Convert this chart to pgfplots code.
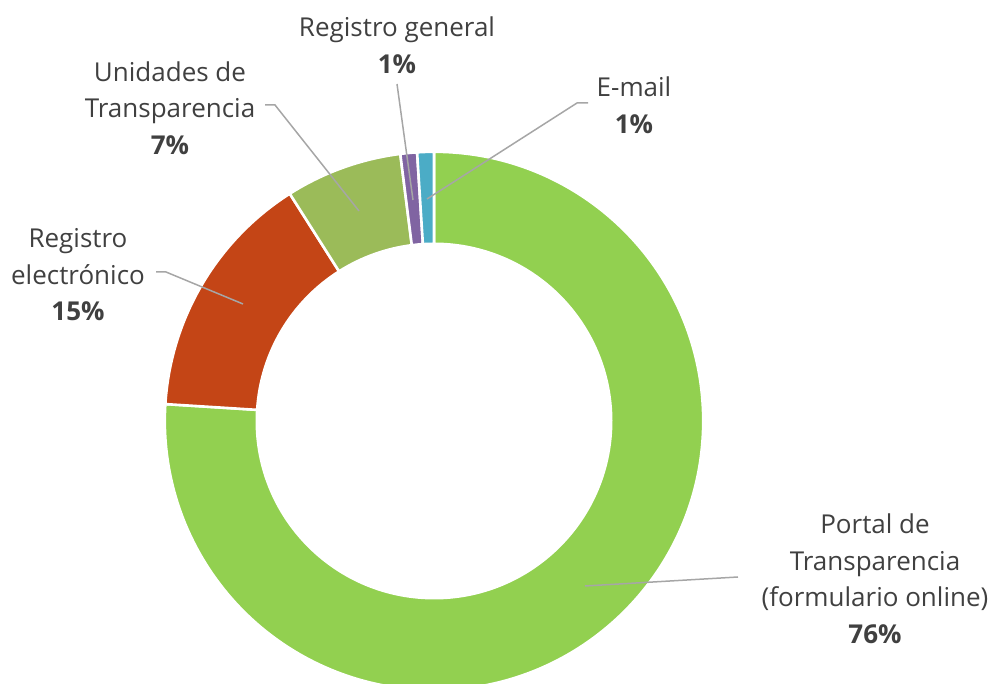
\documentclass[border=0pt]{standalone}
\usepackage{pgfplots}
\pgfplotsset{compat=1.18}
\usepackage{fontspec}
\setmainfont{Open Sans}
\definecolor{cPortal}{HTML}{92D050}
\definecolor{cElec}{HTML}{C44516}
\definecolor{cUnid}{HTML}{9BBB59}
\definecolor{cGen}{HTML}{8064A2}
\definecolor{cMail}{HTML}{4BACC6}
\definecolor{txt}{HTML}{404040}
\definecolor{lead}{HTML}{A6A6A6}
% slice: #1 cumulative percent before, #2 percent, #3 colour
\newcommand\slice[3]{%
  \fill[#3, draw=white, line width=1.3pt]
    ([shift={({90-3.6*#1}:134.6pt)}]C) arc[start angle={90-3.6*#1}, delta angle={-3.6*#2}, radius=134.6pt]
    -- ([shift={({90-3.6*(#1+#2)}:88.6pt)}]C) arc[start angle={90-3.6*(#1+#2)}, delta angle={3.6*#2}, radius=88.6pt]
    -- cycle;}
\begin{document}
\begin{tikzpicture}
\begin{axis}[width=497pt,height=342pt,scale only axis,
  xmin=0,xmax=994,ymin=0,ymax=684,hide axis,clip=true]
\coordinate (C) at (axis cs:434,263);
\slice{0}{76}{cPortal}
\slice{76}{15}{cElec}
\slice{91}{7}{cUnid}
\slice{98}{1}{cGen}
\slice{99}{1}{cMail}
\begin{scope}[lead, line width=0.75pt]
\draw (axis cs:397,600) -- (axis cs:413,484);
\draw (axis cs:588,581) -- (axis cs:577,581) -- (axis cs:427,485);
\draw (axis cs:265,579) -- (axis cs:275,579) -- (axis cs:359,473);
\draw (axis cs:156,412) -- (axis cs:166,412) -- (axis cs:243,380);
\draw (axis cs:738,107) -- (axis cs:585,98);
\end{scope}
\begin{scope}[every node/.style={text=txt, align=center, font=\fontsize{13}{18.25}\selectfont, inner sep=0pt}]
\node at (axis cs:397,639) {Registro general\\\textbf{1\%}};
\node at (axis cs:634,579) {E-mail\\\textbf{1\%}};
\node at (axis cs:170,576) {Unidades de\\Transparencia\\\textbf{7\%}};
\node at (axis cs:78,409) {Registro\\electrónico\\\textbf{15\%}};
\node at (axis cs:875,105) {Portal de\\Transparencia\\(formulario online)\\\textbf{76\%}};
\end{scope}
\end{axis}
\pgfresetboundingbox
\useasboundingbox (current axis.south west) rectangle (current axis.north east);
\end{tikzpicture}
\end{document}
